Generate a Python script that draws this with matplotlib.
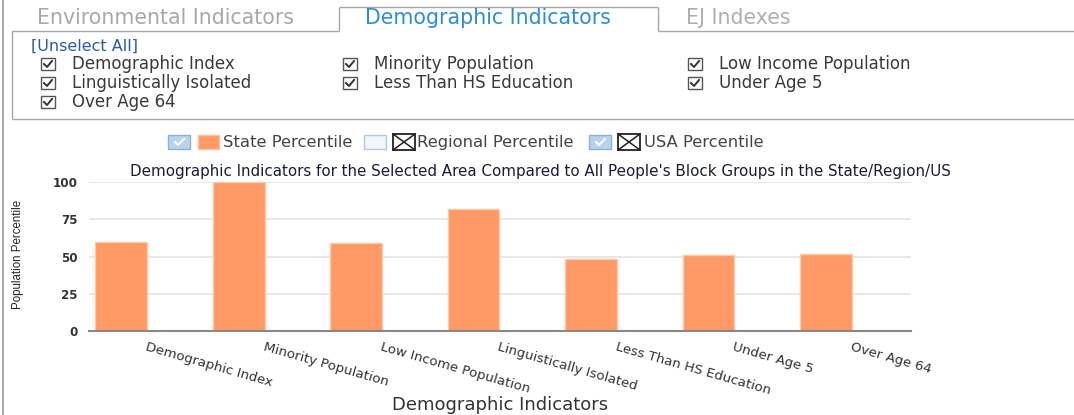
import matplotlib
matplotlib.use("Agg")
import matplotlib.pyplot as plt
from matplotlib.patches import Rectangle
from matplotlib.lines import Line2D

# data
categories = ["Demographic Index", "Minority Population", "Low Income Population",
              "Linguistically Isolated", "Less Than HS Education", "Under Age 5", "Over Age 64"]
state_pct = [60, 100, 59, 82, 48, 51, 52]
y_ticks = [0, 25, 50, 75, 100]

tabs = ["Environmental Indicators", "Demographic Indicators", "EJ Indexes"]
checkbox_rows = [["Demographic Index", "Minority Population", "Low Income Population"],
                 ["Linguistically Isolated", "Less Than HS Education", "Under Age 5"],
                 ["Over Age 64"]]
legend_labels = ["State Percentile", "Regional Percentile", "USA Percentile"]

title = "Demographic Indicators for the Selected Area Compared to All People's Block Groups in the State/Region/US"

W, H = 1074, 415
fig = plt.figure(figsize=(W / 100, H / 100), dpi=100)

# full-figure layer for the page widgets, in pixel coords
ui = fig.add_axes([0, 0, 1, 1], zorder=0)
ui.set_xlim(0, W)
ui.set_ylim(H, 0)
ui.axis("off")

border = "#a8a8a8"

def line(xs, ys, color=border, lw=1.0):
    ui.add_line(Line2D(xs, ys, color=color, lw=lw, solid_capstyle="butt"))

# outer page edge + tab panel
line([3, 3], [0, H], color="#999999", lw=1.2)
line([12, 339], [31, 31])
line([658, W], [31, 31])
line([339, 339], [7, 31])
line([339, 658], [7, 7])
line([658, 658], [7, 31])
line([12, 12], [31, 119])
line([12, W], [119, 119])

ui.text(37, 18, tabs[0], fontsize=14.8, color="#a9a9a9", va="center")
ui.text(365, 18, tabs[1], fontsize=14.8, color="#2e8ddb", va="center")
ui.text(686, 18, tabs[2], fontsize=14.8, color="#b0b0b0", va="center")

ui.text(31, 46, "[Unselect All]", fontsize=11.5, color="#2a5caa", va="center")

def checkbox(x, y, size=14):
    ui.add_patch(Rectangle((x, y - 6), size, 12, fill=False,
                           edgecolor="#555555", lw=1.0))
    ui.add_line(Line2D([x + 3, x + 6, x + 11], [y, y + 3, y - 3],
                       color="#333333", lw=1.4))

col_x = [41, 343, 688]
row_y = [64, 83, 102]
for r, row in enumerate(checkbox_rows):
    for c, label in enumerate(row):
        checkbox(col_x[c], row_y[r])
        ui.text(col_x[c] + 31, row_y[r], label, fontsize=12, color="#3a3a3a", va="center")

# legend row
ly = 142

def blue_check(x):
    ui.add_patch(Rectangle((x, ly - 7), 22, 14, facecolor="#b9d3ec",
                           edgecolor="#8eb0d4", lw=1.0))
    ui.add_line(Line2D([x + 7, x + 10, x + 16], [ly, ly + 3, ly - 3],
                       color="white", lw=1.4))

def x_box(x):
    ui.add_patch(Rectangle((x, ly - 8), 22, 16, facecolor="white",
                           edgecolor="#222222", lw=1.3))
    ui.add_line(Line2D([x, x + 22], [ly - 8, ly + 8], color="#222222", lw=1.1))
    ui.add_line(Line2D([x, x + 22], [ly + 8, ly - 8], color="#222222", lw=1.1))

blue_check(168)
ui.add_patch(Rectangle((198, ly - 7), 21, 14, facecolor="#ff9966", edgecolor="#ffc2a0", lw=1))
ui.text(223, ly, legend_labels[0], fontsize=11.8, color="#444444", va="center")
ui.add_patch(Rectangle((364, ly - 7), 22, 14, facecolor="#f2f6fb", edgecolor="#b6c8dc", lw=1))
x_box(393)
ui.text(417, ly, legend_labels[1], fontsize=11.8, color="#444444", va="center")
blue_check(589)
x_box(618)
ui.text(644, ly, legend_labels[2], fontsize=11.8, color="#444444", va="center")

ui.text(540, 171, title, fontsize=10.9, color="#1c1c3a", ha="center", va="center")

# chart axes: x 89..911, y 182..331 px
ax = fig.add_axes([89 / W, 1 - 331 / H, (911 - 89) / W, (331 - 182) / H], zorder=1)
ax.patch.set_alpha(0)
n = len(categories)
xs = list(range(n))
ax.bar([i + 0.055 for i in xs], state_pct, width=0.44, align="edge",
       color="#ff9966", edgecolor="#ffcaa8", lw=1, zorder=2)
ax.set_xlim(0, n)
ax.set_ylim(0, 100)
ax.set_yticks(y_ticks)
ax.set_yticklabels([str(v) for v in y_ticks], fontsize=8.6, fontweight="bold", color="#333333")
ax.set_xticks([i + 0.5 for i in xs])
ax.set_xticklabels(categories, rotation=-16, ha="left", va="top",
                   rotation_mode="anchor", fontsize=9.6, color="#333333")
ax.tick_params(axis="both", length=0)
ax.tick_params(axis="y", pad=8)
ax.tick_params(axis="x", pad=7)
ax.grid(axis="y", color="#e4e4e4", lw=1.2, zorder=0)
for s in ["top", "right", "left"]:
    ax.spines[s].set_visible(False)
ax.spines["bottom"].set_color("#888888")
ax.spines["bottom"].set_linewidth(1.5)

ui.text(18, 254, "Population Percentile", rotation=90, fontsize=8.3,
        family=["Liberation Sans Narrow", "Liberation Sans", "DejaVu Sans"], color="#222222",
        ha="center", va="center")
ui.text(500, 405, "Demographic Indicators", fontsize=13, color="#333333",
        ha="center", va="center")

fig.savefig("out.png", dpi=100)
